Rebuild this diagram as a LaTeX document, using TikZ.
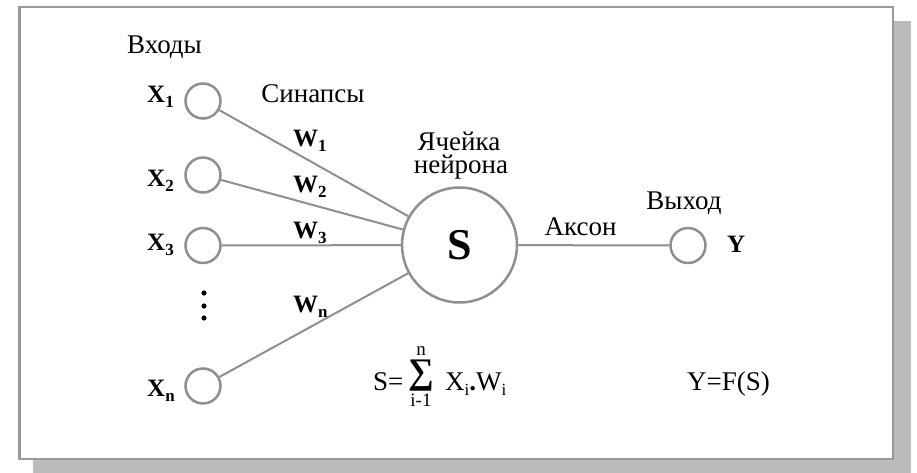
\documentclass[tikz,border=0pt]{standalone}
\usepackage{fontspec}
\setmainfont{Liberation Serif}
\definecolor{linegray}{HTML}{8F8F8F}
\definecolor{framegray}{HTML}{999999}
\definecolor{shadowgray}{HTML}{BBBBBB}
\newcommand{\mysb}[1]{\raisebox{-0.2em}{\fontsize{17}{17}\selectfont #1}}
\begin{document}
\begin{tikzpicture}[x=1pt,y=-1pt,
  lbl/.style={inner sep=0pt, font=\fontsize{27}{30}\selectfont},
  var/.style={inner sep=0pt, font=\fontsize{25}{30}\selectfont\bfseries},
  neuron/.style={circle, draw=linegray, line width=2.5pt, fill=white, inner sep=0pt},
  conn/.style={draw=linegray, line width=2pt}]
\useasboundingbox (0,0) rectangle (917,473);
% frame with shadow
\fill[shadowgray] (33,21) rectangle (911,473);
\draw[framegray, line width=2.5pt, fill=white] (19.5,7) rectangle (893,459);
% neurons
\node[neuron, minimum size=35pt] (in1) at (203,101) {};
\node[neuron, minimum size=35pt] (in2) at (203,175) {};
\node[neuron, minimum size=35pt] (in3) at (203,245.5) {};
\node[neuron, minimum size=35pt] (inn) at (203,386) {};
\node[neuron, minimum size=115pt] (S) at (459.5,245) {};
\node[neuron, minimum size=35pt] (out) at (688,245.5) {};
\node[inner sep=0pt, font=\fontsize{44}{48}\selectfont\bfseries] (Slbl) at (459.5,245) {S};
% connectors
\draw[conn] (in1) -- (S);
\draw[conn] (in2) -- (S);
\draw[conn] (in3) -- (S);
\draw[conn] (inn) -- (S);
\draw[conn] (S) -- (out);
% vertical dots
\fill (204,293) circle (2.6);
\fill (204,306) circle (2.6);
\fill (204,318) circle (2.6);
% labels
\node[lbl, anchor=base] (inputs) at (164.5,54) {Входы};
\node[lbl, anchor=base] (syn) at (313,103) {Синапсы};
\node[lbl, anchor=base, text depth=0pt] (cell1) at (459,150) {Ячейка};
\node[lbl, anchor=base] (cell2) at (461,174) {нейрона};
\node[lbl, anchor=base] (axon) at (580.5,235) {Аксон};
\node[lbl, anchor=base] (outlbl) at (684,209) {Выход};
\node[var, anchor=base west] (x1) at (147,103) {X\mysb{1}};
\node[var, anchor=base west] (x2) at (147,186) {X\mysb{2}};
\node[var, anchor=base west] (x3) at (147,250) {X\mysb{3}};
\node[var, anchor=base west] (xn) at (147,396) {X\mysb{n}};
\node[var, anchor=base west] (w1) at (293,147) {W\mysb{1}};
\node[var, anchor=base west] (w2) at (293,193) {W\mysb{2}};
\node[var, anchor=base west] (w3) at (293,238) {W\mysb{3}};
\node[var, anchor=base west] (wn) at (293,312) {W\mysb{n}};
\node[var, anchor=base west] (ylbl) at (727,252) {Y};
% formulas
\node[lbl, anchor=base west] (sum1) at (373,390) {S=};
\node[inner sep=0pt, font=\fontsize{36}{38}\selectfont\bfseries] (sig) at (421,375.5) {∑};
\node[inner sep=0pt, font=\fontsize{19}{20}\selectfont, anchor=base, text depth=0pt] (sigtop) at (421,355) {n};
\node[inner sep=0pt, font=\fontsize{19}{20}\selectfont, anchor=base] (sigbot) at (421,406) {i-1};
\node[lbl, anchor=base west] (sum2) at (445,390) {X\mysb{i}\textbf{.}W\mysb{i}};
\node[lbl, anchor=base west] (yf) at (687,390) {Y=F(S)};
\end{tikzpicture}
\end{document}
